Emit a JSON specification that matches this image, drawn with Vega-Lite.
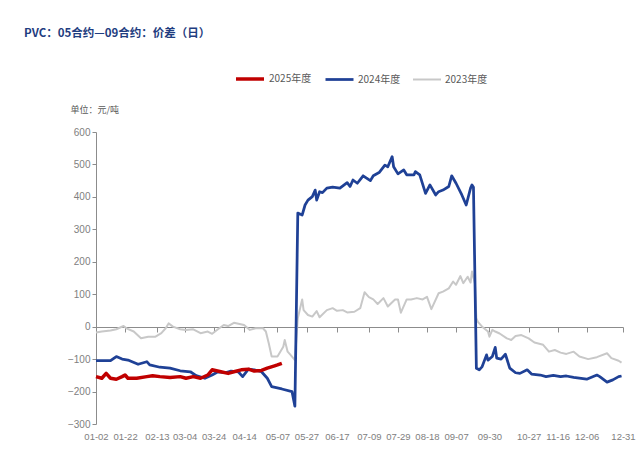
{
  "$schema": "https://vega.github.io/schema/vega-lite/v6.json",
  "width": 527,
  "height": 292,
  "autosize": {"type": "none"},
  "padding": {"left": 96, "top": 132, "right": 17, "bottom": 38},
  "background": "white",
  "title": {
    "text": "PVC：05合约—09合约：价差（日）",
    "anchor": "start",
    "frame": "group",
    "dx": -72,
    "offset": 24,
    "font": "Noto Sans CJK SC",
    "fontSize": 11.5,
    "fontWeight": "bold",
    "color": "#1F3D80"
  },
  "config": {
    "view": {"stroke": null},
    "axis": {"grid": false},
    "axisY": {"labelOverlap": false}
  },
  "data": {
    "values": [
      {"md": "01-02", "year": "2023年度", "value": -18},
      {"md": "01-06", "year": "2023年度", "value": -15},
      {"md": "01-12", "year": "2023年度", "value": -12},
      {"md": "01-16", "year": "2023年度", "value": -8},
      {"md": "01-21", "year": "2023年度", "value": 2},
      {"md": "01-23", "year": "2023年度", "value": -5},
      {"md": "01-28", "year": "2023年度", "value": -15},
      {"md": "02-02", "year": "2023年度", "value": -36},
      {"md": "02-07", "year": "2023年度", "value": -31},
      {"md": "02-12", "year": "2023年度", "value": -31},
      {"md": "02-16", "year": "2023年度", "value": -20},
      {"md": "02-19", "year": "2023年度", "value": -5},
      {"md": "02-21", "year": "2023年度", "value": 10},
      {"md": "02-24", "year": "2023年度", "value": 0},
      {"md": "03-01", "year": "2023年度", "value": -8},
      {"md": "03-05", "year": "2023年度", "value": -10},
      {"md": "03-10", "year": "2023年度", "value": -8},
      {"md": "03-15", "year": "2023年度", "value": -20},
      {"md": "03-20", "year": "2023年度", "value": -15},
      {"md": "03-23", "year": "2023年度", "value": -22},
      {"md": "03-27", "year": "2023年度", "value": -8},
      {"md": "03-31", "year": "2023年度", "value": 5},
      {"md": "04-03", "year": "2023年度", "value": 2},
      {"md": "04-07", "year": "2023年度", "value": 12},
      {"md": "04-14", "year": "2023年度", "value": 5},
      {"md": "04-18", "year": "2023年度", "value": -10},
      {"md": "04-22", "year": "2023年度", "value": -5},
      {"md": "04-27", "year": "2023年度", "value": -5},
      {"md": "04-29", "year": "2023年度", "value": -15},
      {"md": "05-01", "year": "2023年度", "value": -51},
      {"md": "05-03", "year": "2023年度", "value": -92},
      {"md": "05-07", "year": "2023年度", "value": -92},
      {"md": "05-11", "year": "2023年度", "value": -62},
      {"md": "05-12", "year": "2023年度", "value": -41},
      {"md": "05-14", "year": "2023年度", "value": -77},
      {"md": "05-16", "year": "2023年度", "value": -87},
      {"md": "05-19", "year": "2023年度", "value": -103},
      {"md": "05-21", "year": "2023年度", "value": 26},
      {"md": "05-24", "year": "2023年度", "value": 84},
      {"md": "05-25", "year": "2023年度", "value": 51},
      {"md": "05-28", "year": "2023年度", "value": 36},
      {"md": "05-31", "year": "2023年度", "value": 31},
      {"md": "06-03", "year": "2023年度", "value": 48},
      {"md": "06-05", "year": "2023年度", "value": 29},
      {"md": "06-10", "year": "2023年度", "value": 51},
      {"md": "06-14", "year": "2023年度", "value": 57},
      {"md": "06-17", "year": "2023年度", "value": 49},
      {"md": "06-21", "year": "2023年度", "value": 51},
      {"md": "06-24", "year": "2023年度", "value": 44},
      {"md": "06-29", "year": "2023年度", "value": 46},
      {"md": "07-03", "year": "2023年度", "value": 57},
      {"md": "07-06", "year": "2023年度", "value": 106},
      {"md": "07-09", "year": "2023年度", "value": 91},
      {"md": "07-12", "year": "2023年度", "value": 84},
      {"md": "07-15", "year": "2023年度", "value": 70},
      {"md": "07-19", "year": "2023年度", "value": 88},
      {"md": "07-22", "year": "2023年度", "value": 62},
      {"md": "07-27", "year": "2023年度", "value": 84},
      {"md": "07-29", "year": "2023年度", "value": 84},
      {"md": "07-31", "year": "2023年度", "value": 43},
      {"md": "08-04", "year": "2023年度", "value": 84},
      {"md": "08-07", "year": "2023年度", "value": 84},
      {"md": "08-11", "year": "2023年度", "value": 88},
      {"md": "08-15", "year": "2023年度", "value": 84},
      {"md": "08-18", "year": "2023年度", "value": 92},
      {"md": "08-21", "year": "2023年度", "value": 54},
      {"md": "08-26", "year": "2023年度", "value": 103},
      {"md": "08-29", "year": "2023年度", "value": 108},
      {"md": "09-02", "year": "2023年度", "value": 118},
      {"md": "09-05", "year": "2023年度", "value": 139},
      {"md": "09-07", "year": "2023年度", "value": 129},
      {"md": "09-10", "year": "2023年度", "value": 156},
      {"md": "09-12", "year": "2023年度", "value": 134},
      {"md": "09-15", "year": "2023年度", "value": 154},
      {"md": "09-17", "year": "2023年度", "value": 136},
      {"md": "09-18", "year": "2023年度", "value": 170},
      {"md": "09-20", "year": "2023年度", "value": 134},
      {"md": "09-21", "year": "2023年度", "value": 26},
      {"md": "09-22", "year": "2023年度", "value": 15},
      {"md": "09-25", "year": "2023年度", "value": 0},
      {"md": "09-29", "year": "2023年度", "value": -15},
      {"md": "09-30", "year": "2023年度", "value": -31},
      {"md": "10-02", "year": "2023年度", "value": -10},
      {"md": "10-04", "year": "2023年度", "value": -15},
      {"md": "10-07", "year": "2023年度", "value": -21},
      {"md": "10-12", "year": "2023年度", "value": -36},
      {"md": "10-15", "year": "2023年度", "value": -41},
      {"md": "10-18", "year": "2023年度", "value": -29},
      {"md": "10-22", "year": "2023年度", "value": -26},
      {"md": "10-27", "year": "2023年度", "value": -36},
      {"md": "10-31", "year": "2023年度", "value": -49},
      {"md": "11-06", "year": "2023年度", "value": -56},
      {"md": "11-10", "year": "2023年度", "value": -77},
      {"md": "11-14", "year": "2023年度", "value": -72},
      {"md": "11-18", "year": "2023年度", "value": -80},
      {"md": "11-22", "year": "2023年度", "value": -84},
      {"md": "11-27", "year": "2023年度", "value": -77},
      {"md": "12-01", "year": "2023年度", "value": -92},
      {"md": "12-07", "year": "2023年度", "value": -100},
      {"md": "12-13", "year": "2023年度", "value": -94},
      {"md": "12-20", "year": "2023年度", "value": -82},
      {"md": "12-23", "year": "2023年度", "value": -97},
      {"md": "12-28", "year": "2023年度", "value": -105},
      {"md": "12-30", "year": "2023年度", "value": -111},

      {"md": "01-02", "year": "2024年度", "value": -105},
      {"md": "01-12", "year": "2024年度", "value": -105},
      {"md": "01-16", "year": "2024年度", "value": -92},
      {"md": "01-20", "year": "2024年度", "value": -100},
      {"md": "01-24", "year": "2024年度", "value": -103},
      {"md": "01-31", "year": "2024年度", "value": -116},
      {"md": "02-06", "year": "2024年度", "value": -108},
      {"md": "02-08", "year": "2024年度", "value": -118},
      {"md": "02-15", "year": "2024年度", "value": -125},
      {"md": "02-22", "year": "2024年度", "value": -128},
      {"md": "03-01", "year": "2024年度", "value": -136},
      {"md": "03-08", "year": "2024年度", "value": -139},
      {"md": "03-12", "year": "2024年度", "value": -151},
      {"md": "03-18", "year": "2024年度", "value": -159},
      {"md": "03-23", "year": "2024年度", "value": -149},
      {"md": "03-27", "year": "2024年度", "value": -139},
      {"md": "04-01", "year": "2024年度", "value": -142},
      {"md": "04-05", "year": "2024年度", "value": -137},
      {"md": "04-10", "year": "2024年度", "value": -139},
      {"md": "04-13", "year": "2024年度", "value": -154},
      {"md": "04-17", "year": "2024年度", "value": -131},
      {"md": "04-21", "year": "2024年度", "value": -133},
      {"md": "04-26", "year": "2024年度", "value": -139},
      {"md": "04-30", "year": "2024年度", "value": -159},
      {"md": "05-03", "year": "2024年度", "value": -185},
      {"md": "05-10", "year": "2024年度", "value": -192},
      {"md": "05-17", "year": "2024年度", "value": -200},
      {"md": "05-19", "year": "2024年度", "value": -245},
      {"md": "05-21", "year": "2024年度", "value": 350},
      {"md": "05-24", "year": "2024年度", "value": 344},
      {"md": "05-26", "year": "2024年度", "value": 375},
      {"md": "05-28", "year": "2024年度", "value": 390},
      {"md": "05-31", "year": "2024年度", "value": 401},
      {"md": "06-02", "year": "2024年度", "value": 421},
      {"md": "06-03", "year": "2024年度", "value": 390},
      {"md": "06-05", "year": "2024年度", "value": 416},
      {"md": "06-07", "year": "2024年度", "value": 413},
      {"md": "06-10", "year": "2024年度", "value": 427},
      {"md": "06-14", "year": "2024年度", "value": 430},
      {"md": "06-19", "year": "2024年度", "value": 427},
      {"md": "06-24", "year": "2024年度", "value": 444},
      {"md": "06-26", "year": "2024年度", "value": 432},
      {"md": "06-28", "year": "2024年度", "value": 452},
      {"md": "07-01", "year": "2024年度", "value": 442},
      {"md": "07-05", "year": "2024年度", "value": 465},
      {"md": "07-10", "year": "2024年度", "value": 450},
      {"md": "07-12", "year": "2024年度", "value": 465},
      {"md": "07-16", "year": "2024年度", "value": 475},
      {"md": "07-20", "year": "2024年度", "value": 498},
      {"md": "07-22", "year": "2024年度", "value": 493},
      {"md": "07-25", "year": "2024年度", "value": 524},
      {"md": "07-26", "year": "2024年度", "value": 493},
      {"md": "07-29", "year": "2024年度", "value": 471},
      {"md": "08-02", "year": "2024年度", "value": 483},
      {"md": "08-04", "year": "2024年度", "value": 468},
      {"md": "08-09", "year": "2024年度", "value": 468},
      {"md": "08-10", "year": "2024年度", "value": 478},
      {"md": "08-13", "year": "2024年度", "value": 468},
      {"md": "08-17", "year": "2024年度", "value": 411},
      {"md": "08-20", "year": "2024年度", "value": 437},
      {"md": "08-24", "year": "2024年度", "value": 406},
      {"md": "08-26", "year": "2024年度", "value": 416},
      {"md": "08-29", "year": "2024年度", "value": 421},
      {"md": "09-02", "year": "2024年度", "value": 432},
      {"md": "09-04", "year": "2024年度", "value": 465},
      {"md": "09-07", "year": "2024年度", "value": 442},
      {"md": "09-11", "year": "2024年度", "value": 406},
      {"md": "09-14", "year": "2024年度", "value": 375},
      {"md": "09-17", "year": "2024年度", "value": 427},
      {"md": "09-18", "year": "2024年度", "value": 437},
      {"md": "09-19", "year": "2024年度", "value": 430},
      {"md": "09-21", "year": "2024年度", "value": -128},
      {"md": "09-23", "year": "2024年度", "value": -133},
      {"md": "09-25", "year": "2024年度", "value": -123},
      {"md": "09-28", "year": "2024年度", "value": -87},
      {"md": "09-29", "year": "2024年度", "value": -103},
      {"md": "10-02", "year": "2024年度", "value": -92},
      {"md": "10-04", "year": "2024年度", "value": -64},
      {"md": "10-05", "year": "2024年度", "value": -97},
      {"md": "10-08", "year": "2024年度", "value": -100},
      {"md": "10-11", "year": "2024年度", "value": -85},
      {"md": "10-14", "year": "2024年度", "value": -128},
      {"md": "10-18", "year": "2024年度", "value": -142},
      {"md": "10-21", "year": "2024年度", "value": -144},
      {"md": "10-26", "year": "2024年度", "value": -133},
      {"md": "10-29", "year": "2024年度", "value": -146},
      {"md": "11-04", "year": "2024年度", "value": -149},
      {"md": "11-08", "year": "2024年度", "value": -154},
      {"md": "11-13", "year": "2024年度", "value": -150},
      {"md": "11-18", "year": "2024年度", "value": -154},
      {"md": "11-22", "year": "2024年度", "value": -152},
      {"md": "11-27", "year": "2024年度", "value": -156},
      {"md": "12-06", "year": "2024年度", "value": -162},
      {"md": "12-13", "year": "2024年度", "value": -149},
      {"md": "12-15", "year": "2024年度", "value": -154},
      {"md": "12-20", "year": "2024年度", "value": -171},
      {"md": "12-24", "year": "2024年度", "value": -164},
      {"md": "12-28", "year": "2024年度", "value": -154},
      {"md": "12-30", "year": "2024年度", "value": -152},

      {"md": "01-02", "year": "2025年度", "value": -154},
      {"md": "01-06", "year": "2025年度", "value": -159},
      {"md": "01-09", "year": "2025年度", "value": -144},
      {"md": "01-12", "year": "2025年度", "value": -159},
      {"md": "01-16", "year": "2025年度", "value": -162},
      {"md": "01-20", "year": "2025年度", "value": -154},
      {"md": "01-22", "year": "2025年度", "value": -149},
      {"md": "01-24", "year": "2025年度", "value": -159},
      {"md": "01-30", "year": "2025年度", "value": -159},
      {"md": "02-06", "year": "2025年度", "value": -154},
      {"md": "02-10", "year": "2025年度", "value": -151},
      {"md": "02-15", "year": "2025年度", "value": -154},
      {"md": "02-22", "year": "2025年度", "value": -157},
      {"md": "03-01", "year": "2025年度", "value": -154},
      {"md": "03-05", "year": "2025年度", "value": -159},
      {"md": "03-10", "year": "2025年度", "value": -154},
      {"md": "03-15", "year": "2025年度", "value": -159},
      {"md": "03-20", "year": "2025年度", "value": -149},
      {"md": "03-23", "year": "2025年度", "value": -133},
      {"md": "03-29", "year": "2025年度", "value": -139},
      {"md": "04-03", "year": "2025年度", "value": -144},
      {"md": "04-07", "year": "2025年度", "value": -139},
      {"md": "04-12", "year": "2025年度", "value": -133},
      {"md": "04-17", "year": "2025年度", "value": -131},
      {"md": "04-21", "year": "2025年度", "value": -137},
      {"md": "04-26", "year": "2025年度", "value": -135},
      {"md": "04-30", "year": "2025年度", "value": -128},
      {"md": "05-05", "year": "2025年度", "value": -121},
      {"md": "05-07", "year": "2025年度", "value": -118},
      {"md": "05-10", "year": "2025年度", "value": -113}
    ],
    "format": {"parse": {"md": "date:'%m-%d'"}}
  },
  "encoding": {
    "y": {
      "field": "value",
      "type": "quantitative",
      "scale": {"domain": [-300, 600], "nice": false, "zero": false},
      "axis": {
        "values": [-300, -200, -100, 0, 100, 200, 300, 400, 500, 600],
        "tickCount": 10,
        "labelOverlap": false,
        "title": "单位：元/吨",
        "titleAngle": 0,
        "titleAlign": "left",
        "titleBaseline": "middle",
        "titleX": -26,
        "titleY": -23,
        "titleFont": "Noto Sans CJK SC",
        "titleFontSize": 9,
        "titleFontWeight": "normal",
        "titleColor": "#595959",
        "labelFont": "Liberation Sans Narrow, Liberation Sans, sans-serif",
        "labelFontSize": 10,
        "labelColor": "#808080",
        "labelPadding": 2,
        "domainColor": "#8c8c8c",
        "tickColor": "#8c8c8c",
        "tickSize": 4
      }
    }
  },
  "layer": [
    {
      "mark": {"type": "point", "opacity": 0, "size": 1},
      "encoding": {
        "x": {
          "field": "md",
          "type": "temporal",
          "scale": {"domain": [{"year": 1900, "month": 1, "date": 2}, {"year": 1900, "month": 12, "date": 31}]},
          "axis": {
            "orient": "bottom",
            "offset": -97,
            "title": null,
            "labels": false,
            "domain": true,
            "domainColor": "#8c8c8c",
            "domainWidth": 1,
            "ticks": true,
            "tickColor": "#8c8c8c",
            "tickSize": 5,
            "values": [
              {"year": 1900, "month": 1, "date": 2},
              {"year": 1900, "month": 1, "date": 22},
              {"year": 1900, "month": 2, "date": 13},
              {"year": 1900, "month": 3, "date": 4},
              {"year": 1900, "month": 3, "date": 24},
              {"year": 1900, "month": 4, "date": 14},
              {"year": 1900, "month": 5, "date": 7},
              {"year": 1900, "month": 5, "date": 27},
              {"year": 1900, "month": 6, "date": 17},
              {"year": 1900, "month": 7, "date": 9},
              {"year": 1900, "month": 7, "date": 29},
              {"year": 1900, "month": 8, "date": 18},
              {"year": 1900, "month": 9, "date": 7},
              {"year": 1900, "month": 9, "date": 30},
              {"year": 1900, "month": 10, "date": 27},
              {"year": 1900, "month": 11, "date": 16},
              {"year": 1900, "month": 12, "date": 6},
              {"year": 1900, "month": 12, "date": 31}
            ]
          }
        }
      }
    },
    {
      "mark": {"type": "line", "interpolate": "linear", "strokeJoin": "round"},
      "encoding": {
        "x": {
          "field": "md",
          "type": "temporal",
          "axis": {
            "orient": "bottom",
            "title": null,
            "domain": false,
            "ticks": false,
            "format": "%m-%d",
            "labelFont": "Liberation Sans Narrow, Liberation Sans, sans-serif",
            "labelFontSize": 9.5,
            "labelColor": "#808080",
            "labelPadding": 7,
            "labelOverlap": false,
            "labelFlush": false,
            "values": [
              {"year": 1900, "month": 1, "date": 2},
              {"year": 1900, "month": 1, "date": 22},
              {"year": 1900, "month": 2, "date": 13},
              {"year": 1900, "month": 3, "date": 4},
              {"year": 1900, "month": 3, "date": 24},
              {"year": 1900, "month": 4, "date": 14},
              {"year": 1900, "month": 5, "date": 7},
              {"year": 1900, "month": 5, "date": 27},
              {"year": 1900, "month": 6, "date": 17},
              {"year": 1900, "month": 7, "date": 9},
              {"year": 1900, "month": 7, "date": 29},
              {"year": 1900, "month": 8, "date": 18},
              {"year": 1900, "month": 9, "date": 7},
              {"year": 1900, "month": 9, "date": 30},
              {"year": 1900, "month": 10, "date": 27},
              {"year": 1900, "month": 11, "date": 16},
              {"year": 1900, "month": 12, "date": 6},
              {"year": 1900, "month": 12, "date": 31}
            ]
          }
        },
        "color": {
          "field": "year",
          "type": "nominal",
          "scale": {"domain": ["2025年度", "2024年度", "2023年度"], "range": ["#C00000", "#1F4196", "#C8C8C8"]},
          "legend": {
            "title": null,
            "orient": "none",
            "direction": "horizontal",
            "legendX": 138,
            "legendY": -69,
            "symbolType": "stroke",
            "symbolSize": 784,
            "symbolStrokeWidth": 4,
            "labelFont": "Noto Sans CJK SC",
            "labelFontSize": 10,
            "labelColor": "#595959",
            "labelOffset": 3,
            "columnPadding": 8
          }
        },
        "strokeWidth": {
          "field": "year",
          "type": "nominal",
          "scale": {"domain": ["2025年度", "2024年度", "2023年度"], "range": [3.5, 2, 2]},
          "legend": null
        },
        "order": {"field": "md", "type": "temporal"}
      }
    }
  ],
  "resolve": {"axis": {"x": "independent"}}
}
